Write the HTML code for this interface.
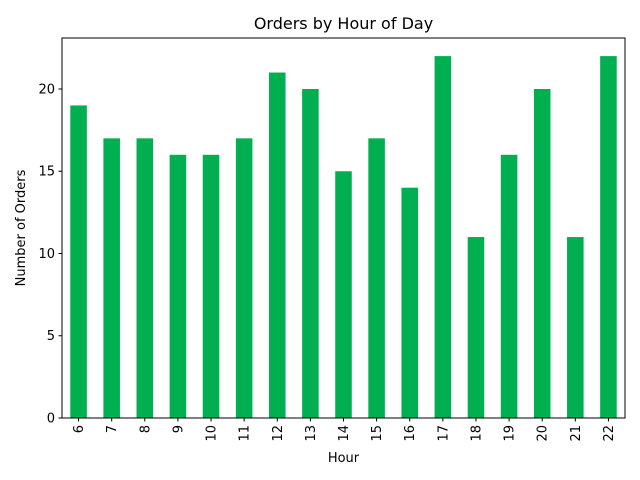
<!DOCTYPE html>
<html><head><meta charset="utf-8"><style>
html,body{margin:0;padding:0;background:#fff;width:640px;height:480px;overflow:hidden}
svg text{font-family:"DejaVu Sans","Liberation Sans",sans-serif;fill:#000}
</style></head><body>
<svg id="chart" width="640" height="480" viewBox="0 0 640 480"></svg>
<script>
const hours = [6,7,8,9,10,11,12,13,14,15,16,17,18,19,20,21,22];
const orders = [19,17,17,16,16,17,21,20,15,17,14,22,11,16,20,11,22];
const yTicks = [0,5,10,15,20];
const yMax = 23.1;
const L=62,R=625,T=38,B=418;
const NS='http://www.w3.org/2000/svg';
const svg=document.getElementById('chart');
function el(tag,attrs,parent){const e=document.createElementNS(NS,tag);for(const k in attrs)e.setAttribute(k,attrs[k]);(parent||svg).appendChild(e);return e;}
const step=(R-L)/hours.length;
function xc(i){return L+step*(i+0.5);}
function ys(v){return B-(v/yMax)*(B-T);}
const bars=el('g',{});


orders.forEach((v,i)=>{
  const r=el('rect',{x:xc(i)-step*0.25,y:ys(v),width:step*0.5,height:B-ys(v),fill:'#00b050'},bars);
  
  
});
const ax=el('g',{});


el('rect',{x:L,y:T,width:R-L,height:B-T,fill:'none',stroke:'#000','stroke-width':1},ax);
yTicks.forEach(t=>{
  const y=ys(t);
  el('line',{x1:L-3.5,x2:L,y1:y,y2:y,stroke:'#000'},ax);
  const tx=el('text',{x:L-7,y:y+4.5,'font-size':13,'text-anchor':'end'},ax);
  tx.textContent=t;
  
  
});
hours.forEach((h,i)=>{
  const x=xc(i);
  el('line',{x1:x,x2:x,y1:B,y2:B+3.5,stroke:'#000'},ax);
  const tx=el('text',{x:0,y:0,'font-size':13,'text-anchor':'end',transform:`translate(${x+4.5},${B+7}) rotate(-90)`},ax);
  tx.textContent=h;
  
  
});
const title=el('text',{x:(L+R)/2,y:29,'font-size':16,'text-anchor':'middle'});
title.textContent='Orders by Hour of Day';


const xl=el('text',{x:(L+R)/2,y:462,'font-size':13,'text-anchor':'middle'});
xl.textContent='Hour';


const yl=el('text',{x:0,y:0,'font-size':13,'text-anchor':'middle',transform:`translate(25,${(T+B)/2}) rotate(-90)`});
yl.textContent='Number of Orders';


</script>
</body></html>
